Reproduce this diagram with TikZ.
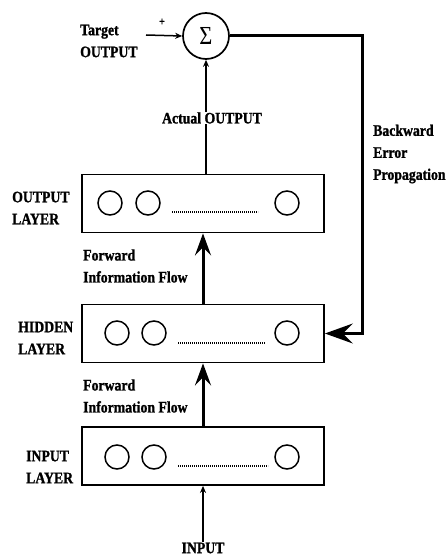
\documentclass[tikz,border=0pt]{standalone}
\usepackage{fontspec}
\setmainfont[FakeStretch=0.86, BoldFeatures={FakeBold=1.2}]{Liberation Serif}
\usetikzlibrary{arrows.meta}
\begin{document}
\begin{tikzpicture}[x=1pt,y=-1pt,
  lbl/.style={font=\fontsize{16}{22}\selectfont\bfseries, inner sep=0pt, align=left},
  layerbox/.style={draw, line width=1.8pt, minimum width=242pt, minimum height=58pt, inner sep=0pt},
  unit/.style={draw, circle, line width=1.5pt, minimum size=24pt, inner sep=0pt},
  dots/.style={line width=1.3pt, dash pattern=on 1.2pt off 0.8pt},
  fwd/.style={line width=3pt, -{Stealth[length=22pt,width=16pt,inset=8pt]}},
  fb/.style={line width=3pt, -{Stealth[length=28pt,width=20pt,inset=10pt]}},
  thinarrow/.style={line width=1.5pt, -{Stealth[length=7pt,width=6pt]}},
  thinline/.style={line width=1.5pt}]
\useasboundingbox (0,0) rectangle (447,556);
\fill[white] (0,0) rectangle (447,556);

% summation node
\node[draw, circle, line width=1.7pt, minimum size=46pt, inner sep=0pt,
      font=\fontsize{26}{26}\selectfont] (sigma) at (206,36) {Σ};
\node[lbl, anchor=west] (target) at (80,41) {Target\\OUTPUT};
\node[font=\fontsize{12}{12}\selectfont\bfseries, inner sep=0pt] (plus) at (162,22) {+};
\coordinate (tgtstart) at (146,35);
\node[lbl] (actual) at (212,118) {Actual OUTPUT};

% layers
\node[layerbox] (outbox) at (203,203.5) {};
\node[layerbox] (hidbox) at (203,333.5) {};
\node[layerbox] (inbox) at (203,456) {};

\node[lbl, anchor=west] (outlbl) at (12,208) {OUTPUT\\LAYER};
\node[lbl, anchor=west] (hidlbl) at (18,338) {HIDDEN\\LAYER};
\node[lbl, anchor=west] (inlbl) at (26,467) {INPUT\\LAYER};

% units
\node[unit] (o1) at (110,203) {};
\node[unit] (o2) at (148,203) {};
\node[unit] (o3) at (287,203) {};
\node[unit] (h1) at (117,333) {};
\node[unit] (h2) at (154,333) {};
\node[unit] (h3) at (287,333) {};
\node[unit] (i1) at (117,457) {};
\node[unit] (i2) at (154,457) {};
\node[unit] (i3) at (287,457) {};
\draw[dots] (172,212) -- (258,212);
\draw[dots] (178,343) -- (265,343);
\draw[dots] (178,466) -- (268,466);

% flow labels
\node[lbl, anchor=west] (fwd1) at (83,266) {Forward\\Information Flow};
\node[lbl, anchor=west] (fwd2) at (83,396) {Forward\\Information Flow};
\node[lbl] (inputlbl) at (203,548) {INPUT};
\node[lbl, anchor=west] (back) at (373,154) {Backward\\Error\\Propagation};

% connectors
\draw[thinarrow] (tgtstart) -- (sigma.west);
\draw[thinarrow] (actual.north -| sigma.south) -- (sigma.south);
\draw[thinline] (outbox.north -| sigma.south) -- (actual.south -| sigma.south);
\draw[fwd] (hidbox.north) -- (outbox.south);
\draw[fwd] (inbox.north) -- (hidbox.south);
\draw[thinarrow] (inputlbl.north) -- (inbox.south);
\draw[fb] (sigma.east) -- ++(133,0) |- (hidbox.east);
\end{tikzpicture}
\end{document}
